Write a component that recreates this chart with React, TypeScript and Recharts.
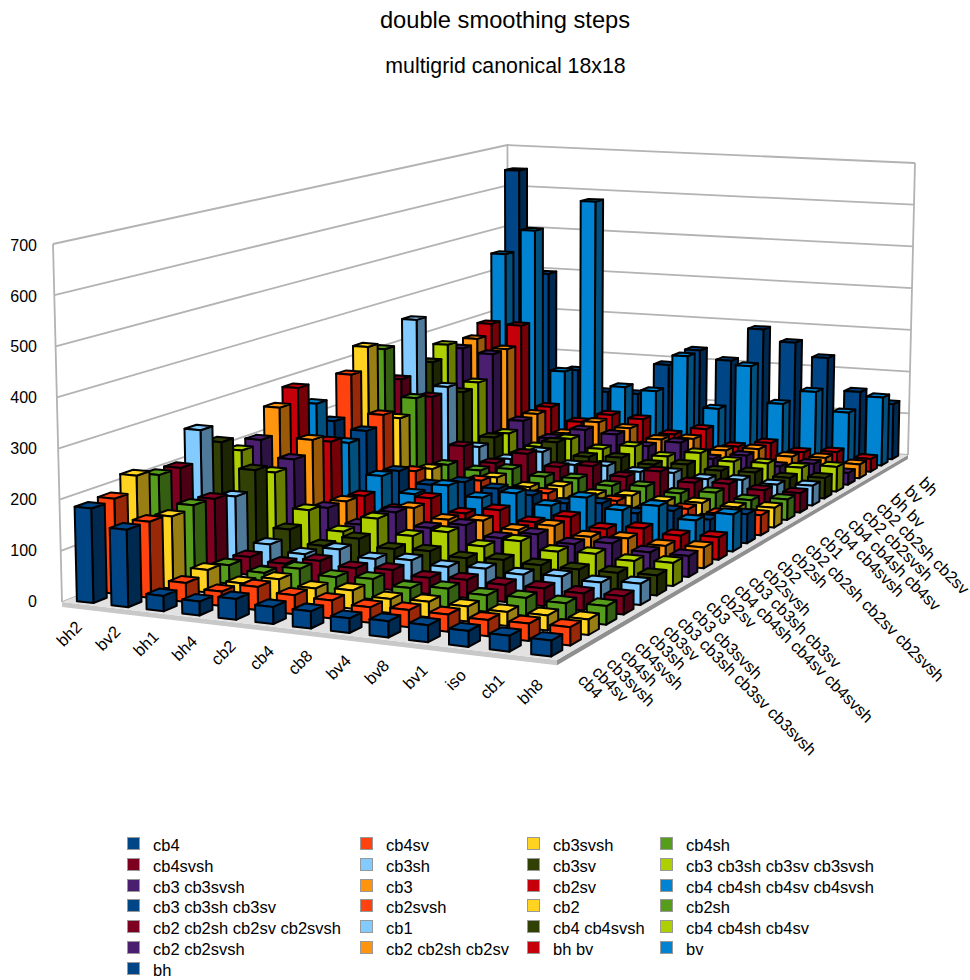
import { ScatterChart, Scatter, XAxis, YAxis, Legend, Customized } from "recharts";

const FONT = '"Liberation Sans", Arial, sans-serif';

const CATEGORIES = ["bh2", "bv2", "bh1", "bh4", "cb2", "cb4", "cb8", "bv4", "bv8", "bv1", "iso", "cb1", "bh8"];
const Y_TICKS = [0, 100, 200, 300, 400, 500, 600, 700];

// front row first, same order as the legend when read row by row
const SERIES_NAMES = [
  "cb4", "cb4sv", "cb3svsh", "cb4sh", "cb4svsh", "cb3sh", "cb3sv",
  "cb3 cb3sh cb3sv cb3svsh", "cb3 cb3svsh", "cb3", "cb2sv",
  "cb4 cb4sh cb4sv cb4svsh", "cb3 cb3sh cb3sv", "cb2svsh", "cb2", "cb2sh",
  "cb2 cb2sh cb2sv cb2svsh", "cb1", "cb4 cb4svsh", "cb4 cb4sh cb4sv",
  "cb2 cb2svsh", "cb2 cb2sh cb2sv", "bh bv", "bv", "bh",
];
const PALETTE = ["#004586", "#ff420e", "#ffd320", "#579d1c", "#7e0021", "#83caff", "#314004", "#aecf00", "#4b1f6f", "#ff950e", "#c5000b", "#0084d1"];

const SERIES_VALUES = [
  [185, 151, 30, 27, 40, 33, 33, 28, 31, 32, 30, 30, 30],
  [188, 150, 37, 28, 45, 37, 35, 30, 33, 33, 31, 33, 35],
  [218, 144, 45, 26, 42, 32, 36, 27, 30, 29, 27, 29, 30],
  [204, 150, 37, 29, 45, 36, 40, 30, 37, 32, 35, 33, 36],
  [203, 147, 36, 30, 43, 36, 40, 32, 36, 34, 35, 33, 36],
  [266, 136, 45, 32, 49, 37, 42, 36, 40, 36, 40, 36, 42],
  [227, 175, 59, 32, 54, 40, 43, 36, 40, 37, 36, 37, 40],
  [195, 155, 83, 45, 79, 50, 65, 43, 61, 47, 50, 43, 47],
  [203, 168, 72, 43, 76, 50, 63, 43, 58, 45, 54, 43, 43],
  [258, 195, 70, 43, 69, 51, 56, 43, 59, 43, 47, 39, 43],
  [287, 177, 66, 43, 74, 48, 62, 43, 61, 43, 51, 43, 47],
  [240, 160, 94, 61, 86, 66, 82, 62, 86, 66, 82, 58, 78],
  [188, 172, 90, 66, 78, 70, 62, 51, 58, 43, 55, 43, 62],
  [278, 194, 75, 47, 66, 47, 51, 43, 47, 37, 43, 39, 43],
  [328, 173, 65, 39, 58, 43, 51, 39, 43, 37, 40, 37, 43],
  [311, 205, 60, 53, 62, 51, 53, 43, 48, 39, 47, 37, 45],
  [230, 195, 88, 55, 82, 58, 66, 48, 66, 47, 51, 43, 43],
  [355, 205, 72, 50, 72, 48, 52, 44, 48, 40, 44, 40, 44],
  [245, 180, 80, 48, 80, 52, 56, 46, 52, 44, 46, 40, 46],
  [274, 190, 76, 50, 74, 56, 68, 50, 64, 50, 52, 48, 56],
  [254, 245, 92, 56, 81, 76, 54, 68, 36, 49, 30, 42, 27],
  [265, 245, 95, 54, 86, 77, 56, 63, 41, 50, 38, 41, 32],
  [290, 290, 99, 68, 90, 85, 54, 72, 36, 50, 34, 40, 30],
  [449, 510, 172, 588, 144, 139, 228, 107, 214, 129, 163, 119, 160],
  [645, 395, 163, 115, 115, 190, 230, 210, 290, 263, 231, 155, 131],
];

const PLOT = { left: 60, top: 245, width: 490, height: 356 };
const MAX_Y = 700;

const FRONT_LEFT = [62, 602];
const FRONT_RIGHT = [557, 660];
const BACK_RIGHT = [908, 455];
const BACK_LEFT = [508, 427];
const WALL_HEIGHT = { frontLeft: 358, backLeft: 282, backRight: 292 };
const WALL_LEAN = { left: -9, right: 7 };

// the labels sit evenly spaced in the original, not on the perspective positions
const CATEGORY_LABEL_ENDS = [[83, 628], [544, 686]];
const SERIES_LABEL_ENDS = [[577, 681], [918, 484]];

function makeCamera() {
  const [x0, y0] = FRONT_LEFT;
  const [x1, y1] = FRONT_RIGHT;
  const [x2, y2] = BACK_RIGHT;
  const [x3, y3] = BACK_LEFT;
  const dx1 = x1 - x2, dx2 = x3 - x2, sx = x0 - x1 + x2 - x3;
  const dy1 = y1 - y2, dy2 = y3 - y2, sy = y0 - y1 + y2 - y3;
  const den = dx1 * dy2 - dx2 * dy1;
  const g = (sx * dy2 - dx2 * sy) / den;
  const h = (dx1 * sy - sx * dy1) / den;
  const a = x1 - x0 + g * x1, b = x3 - x0 + h * x3;
  const d = y1 - y0 + g * y1, e = y3 - y0 + h * y3;
  const invA = 1 / WALL_HEIGHT.frontLeft;
  const invD = 1 / WALL_HEIGHT.backLeft - invA;
  const invU = 1 / WALL_HEIGHT.backRight - 1 / WALL_HEIGHT.backLeft;
  const leanPerPx = (WALL_LEAN.right - WALL_LEAN.left) / (x2 - x0);
  return (u: number, dep: number, level: number) => {
    const w = g * u + h * dep + 1;
    const fx = (a * u + b * dep + x0) / w;
    const fy = (d * u + e * dep + y0) / w;
    const tall = 1 / (invA + invU * u + invD * dep);
    return [fx + level * (WALL_LEAN.left + (fx - x0) * leanPerPx), fy - level * tall];
  };
}
const camera = makeCamera();

const pts = (list: number[][]) => list.map((p) => `${p[0].toFixed(1)},${p[1].toFixed(1)}`).join(" ");

function shade(hex: string, f: number) {
  const n = parseInt(hex.slice(1), 16);
  const c = [(n >> 16) & 255, (n >> 8) & 255, n & 255].map((v) => Math.round(v * f));
  return `rgb(${c[0]},${c[1]},${c[2]})`;
}

const HALF_U = 0.24 / CATEGORIES.length;
const SHIFT_U = 0.03 / CATEGORIES.length;
const HALF_D = 0.29 / SERIES_NAMES.length;

// the scatter's scales give the point; it is read back as (column, value) and drawn as a 3D block
function Block(props: any) {
  const { cx, cy, payload, fill } = props;
  const u = (cx - PLOT.left) / PLOT.width + SHIFT_U;
  const level = (PLOT.top + PLOT.height - cy) / PLOT.height;
  const dep = (payload.row + 0.5) / SERIES_NAMES.length;
  const u0 = u - HALF_U, u1 = u + HALF_U, d0 = dep - HALF_D, d1 = dep + HALF_D;
  const front = [camera(u0, d0, 0), camera(u1, d0, 0), camera(u1, d0, level), camera(u0, d0, level)];
  const side = [camera(u1, d0, 0), camera(u1, d1, 0), camera(u1, d1, level), camera(u1, d0, level)];
  const top = [camera(u0, d0, level), camera(u1, d0, level), camera(u1, d1, level), camera(u0, d1, level)];
  const edge = { stroke: "#000", strokeWidth: 2, strokeLinejoin: "round" as const };
  return (
    <g>
      <polygon points={pts(side)} fill={shade(fill, 0.6)} {...edge} />
      <polygon points={pts(top)} fill={fill} {...edge} />
      <polygon points={pts(front)} fill={fill} {...edge} />
    </g>
  );
}

function Room() {
  const wall = "#b3b3b3";
  const slab = -5 / 356;
  const post = (u: number, d: number) => (
    <line x1={camera(u, d, 0)[0]} y1={camera(u, d, 0)[1]} x2={camera(u, d, 1)[0]} y2={camera(u, d, 1)[1]} stroke={wall} strokeWidth={1.8} />
  );
  return (
    <g>
      {Y_TICKS.map((t) => {
        const l = t / MAX_Y;
        return <polyline key={t} points={pts([camera(0, 0, l), camera(0, 1, l), camera(1, 1, l)])} fill="none" stroke={wall} strokeWidth={1.8} />;
      })}
      {post(0, 0)}
      {post(0, 1)}
      {post(1, 1)}
      <polygon points={pts([camera(0, 0, 0), camera(1, 0, 0), camera(1, 0, slab), camera(0, 0, slab)])} fill="#c8c8c8" />
      <polygon points={pts([camera(1, 0, 0), camera(1, 1, 0), camera(1, 1, slab), camera(1, 0, slab)])} fill="#8f8f8f" />
      <polygon points={pts([camera(0, 0, 0), camera(1, 0, 0), camera(1, 1, 0), camera(0, 1, 0)])} fill="#e2e2e2" />
    </g>
  );
}

const lerpEnds = (ends: number[][], t: number) => [ends[0][0] + (ends[1][0] - ends[0][0]) * t, ends[0][1] + (ends[1][1] - ends[0][1]) * t];

function CategoryTick(props: any) {
  const i = Math.floor(props.payload.value);
  const [px, py] = lerpEnds(CATEGORY_LABEL_ENDS, i / (CATEGORIES.length - 1));
  return (
    <text transform={`translate(${px},${py}) rotate(-45)`} textAnchor="end" fontFamily={FONT} fontSize={16.5} fill="#000">
      {CATEGORIES[i]}
    </text>
  );
}

function SeriesTick(props: any) {
  const i = Math.floor(props.payload.value);
  const [px, py] = lerpEnds(SERIES_LABEL_ENDS, i / (SERIES_NAMES.length - 1));
  return (
    <text transform={`translate(${px},${py}) rotate(45)`} textAnchor="start" fontFamily={FONT} fontSize={16.5} fill="#000">
      {SERIES_NAMES[i]}
    </text>
  );
}

const LEGEND_SWATCH_X = [127, 360, 527, 660];
const LEGEND_TEXT_X = [153, 386, 553, 686];

function ChartLegend({ payload }: any) {
  const items = SERIES_NAMES.map((name) => payload?.find((p: any) => p.value === name)).filter(Boolean);
  return (
    <div style={{ position: "absolute", left: 0, top: 0, fontFamily: FONT, fontSize: 16.5, color: "#000" }}>
      {items.map((item: any, i: number) => {
        const col = i % 4;
        const y = Math.floor(i / 4) * 20.8;
        return (
          <div key={item.value}>
            <div style={{ position: "absolute", left: LEGEND_SWATCH_X[col], top: y + 837, width: 11, height: 11, background: item.color, border: "1px solid #999" }} />
            <div style={{ position: "absolute", left: LEGEND_TEXT_X[col], top: y + 836, lineHeight: "18px", whiteSpace: "nowrap" }}>{item.value}</div>
          </div>
        );
      })}
    </div>
  );
}

const rowOrder = SERIES_NAMES.map((_, i) => SERIES_NAMES.length - 1 - i);
const columnTicks = CATEGORIES.map((_, i) => i + 0.5);
const depthTicks = SERIES_NAMES.map((_, i) => i + 0.5);
const depthAnchors = depthTicks.map((x) => ({ x, y: 0 }));

const NoMark = () => null;

export default function App() {
  return (
    <div style={{ position: "absolute", left: 0, top: 0, width: 970, height: 980, background: "#fff" }}>
      <div style={{ position: "absolute", left: 0, width: 1010, top: 6, textAlign: "center", fontFamily: FONT, fontSize: 23.7, lineHeight: "28px" }}>double smoothing steps</div>
      <div style={{ position: "absolute", left: 0, width: 1011, top: 53, textAlign: "center", fontFamily: FONT, fontSize: 21.3, lineHeight: "26px" }}>multigrid canonical 18x18</div>
      <ScatterChart
        width={970}
        height={980}
        margin={{ top: PLOT.top, left: 0, right: 970 - PLOT.left - PLOT.width, bottom: 980 - PLOT.top - PLOT.height - 2 }}
        style={{ position: "absolute", left: 0, top: 0 }}
      >
        <Customized component={Room} />
        <XAxis xAxisId="col" type="number" dataKey="x" domain={[0, CATEGORIES.length]} ticks={columnTicks} interval={0} height={1} axisLine={false} tickLine={false} tick={CategoryTick} />
        <XAxis xAxisId="depth" type="number" dataKey="x" domain={[0, SERIES_NAMES.length]} ticks={depthTicks} interval={0} height={1} axisLine={false} tickLine={false} tick={SeriesTick} />
        <YAxis type="number" dataKey="y" domain={[0, MAX_Y]} ticks={Y_TICKS} width={PLOT.left} axisLine={false} tickSize={0} tickMargin={23} tick={{ fontFamily: FONT, fontSize: 16, fill: "#000" }} />
        <Legend content={ChartLegend} wrapperStyle={{ left: 0, top: 0, width: 0, height: 0, bottom: "auto" }} />
        <Scatter xAxisId="depth" name="depth-axis" data={depthAnchors} shape={NoMark} legendType="none" isAnimationActive={false} />
        {rowOrder.map((r) => (
          <Scatter
            key={SERIES_NAMES[r]}
            xAxisId="col"
            name={SERIES_NAMES[r]}
            fill={PALETTE[r % PALETTE.length]}
            data={CATEGORIES.map((_, c) => ({ x: c + 0.5, y: SERIES_VALUES[r][c], row: r }))}
            shape={Block}
            isAnimationActive={false}
          />
        ))}
      </ScatterChart>
    </div>
  );
}
